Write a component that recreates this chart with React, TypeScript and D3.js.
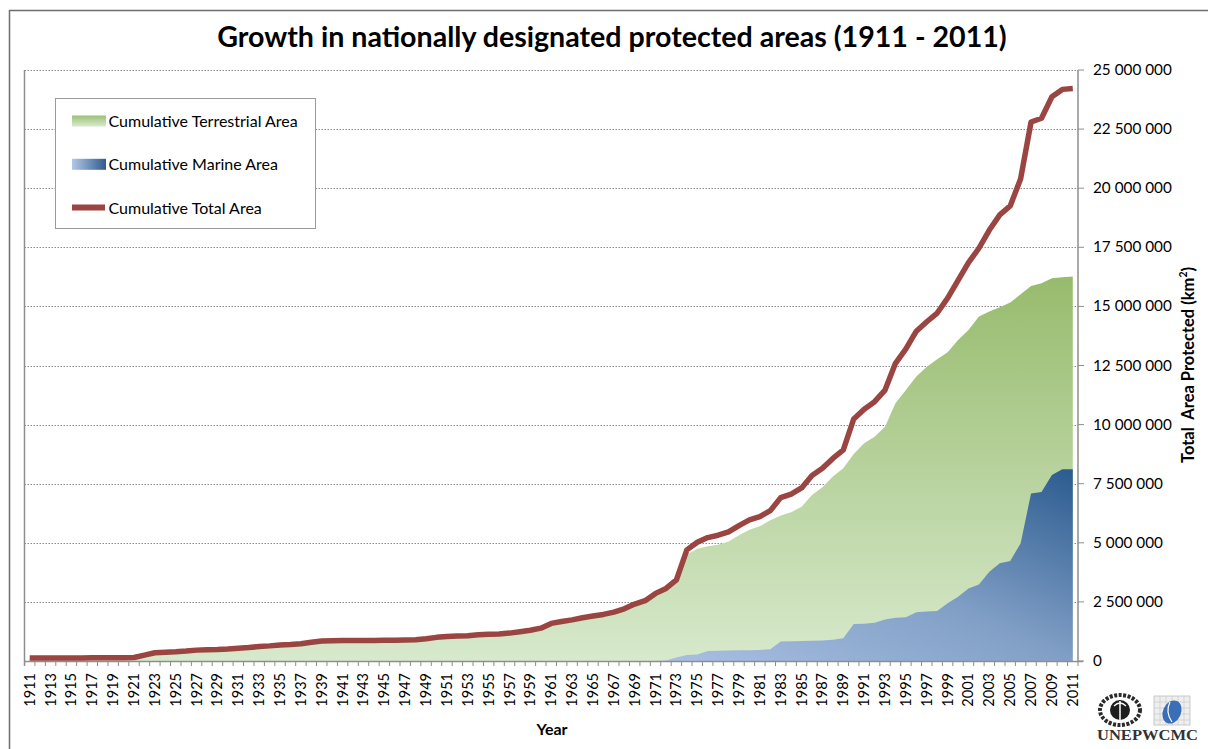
import React from "react";
import * as d3 from "d3";

// ---- Data (values in million km²) ----
const years: number[] = d3.range(1911, 2012);

const totalArea: number[] = [
  0.13, 0.13, 0.13, 0.13, 0.13, 0.13, 0.14, 0.14, 0.14, 0.14,
  0.15, 0.25, 0.35, 0.37, 0.39, 0.42, 0.46, 0.48, 0.49, 0.51,
  0.54, 0.57, 0.61, 0.64, 0.68, 0.70, 0.73, 0.79, 0.85, 0.86,
  0.87, 0.87, 0.87, 0.87, 0.88, 0.88, 0.89, 0.90, 0.94, 1.00,
  1.04, 1.06, 1.07, 1.11, 1.13, 1.14, 1.18, 1.24, 1.30, 1.39,
  1.59, 1.67, 1.74, 1.83, 1.90, 1.97, 2.07, 2.21, 2.41, 2.55,
  2.86, 3.07, 3.43, 4.70, 5.02, 5.22, 5.32, 5.46, 5.73, 5.97,
  6.11, 6.36, 6.91, 7.06, 7.32, 7.85, 8.15, 8.57, 8.93, 10.24,
  10.65, 10.97, 11.46, 12.59, 13.20, 13.95, 14.35, 14.72, 15.35, 16.10,
  16.85, 17.46, 18.23, 18.87, 19.25, 20.40, 22.80, 22.96, 23.87, 24.18, 24.22,
];

const terrestrialArea: number[] = [
  0.13, 0.13, 0.13, 0.13, 0.13, 0.13, 0.14, 0.14, 0.14, 0.14,
  0.15, 0.25, 0.35, 0.37, 0.39, 0.42, 0.46, 0.48, 0.49, 0.51,
  0.54, 0.57, 0.61, 0.64, 0.68, 0.70, 0.73, 0.79, 0.85, 0.86,
  0.87, 0.87, 0.87, 0.87, 0.88, 0.88, 0.89, 0.90, 0.94, 1.00,
  1.04, 1.06, 1.07, 1.11, 1.13, 1.14, 1.18, 1.24, 1.30, 1.39,
  1.59, 1.67, 1.74, 1.83, 1.90, 1.97, 2.07, 2.21, 2.41, 2.55,
  2.86, 3.05, 3.30, 4.50, 4.75, 4.85, 4.92, 5.05, 5.32, 5.55,
  5.70, 5.95, 6.15, 6.29, 6.53, 7.02, 7.35, 7.80, 8.15, 8.76,
  9.21, 9.49, 9.91, 10.90, 11.46, 12.03, 12.45, 12.76, 13.06, 13.58,
  14.00, 14.57, 14.78, 14.96, 15.16, 15.51, 15.86, 15.98, 16.19, 16.23, 16.26,
];

const marineArea: number[] = [
  0, 0, 0, 0, 0, 0, 0, 0, 0, 0,
  0, 0, 0, 0, 0, 0, 0, 0, 0, 0,
  0, 0, 0, 0, 0, 0, 0, 0, 0, 0,
  0, 0, 0, 0, 0, 0, 0, 0, 0, 0,
  0, 0, 0, 0, 0, 0, 0, 0, 0, 0,
  0, 0, 0, 0, 0, 0, 0, 0, 0, 0,
  0, 0.02, 0.15, 0.25, 0.27, 0.42, 0.43, 0.44, 0.45, 0.46,
  0.47, 0.50, 0.83, 0.84, 0.85, 0.86, 0.87, 0.90, 0.96, 1.57,
  1.58, 1.62, 1.76, 1.83, 1.85, 2.06, 2.09, 2.12, 2.44, 2.72,
  3.07, 3.24, 3.78, 4.13, 4.23, 4.98, 7.09, 7.15, 7.87, 8.11, 8.11,
];

const yTicks: number[] = [0, 2.5, 5, 7.5, 10, 12.5, 15, 17.5, 20, 22.5, 25];

const legendItems = [
  { key: "terr", label: "Cumulative Terrestrial Area" },
  { key: "marine", label: "Cumulative Marine Area" },
  { key: "total", label: "Cumulative Total Area" },
];

const TITLE = "Growth in nationally designated protected areas (1911 - 2011)";
const FONT = "Lato, 'Open Sans', sans-serif";

export default function App() {
  const W = 1208;
  const H = 749;
  const plotLeft = 24.5;
  const plotRight = 1078;
  const plotTop = 70;
  const plotBottom = 661;

  const x = d3.scaleBand<number>().domain(years).range([plotLeft, plotRight]).paddingInner(0).paddingOuter(0);
  const cx = (yr: number) => (x(yr) as number) + x.bandwidth() / 2;
  const y = d3.scaleLinear().domain([0, 25]).range([plotBottom, plotTop]);

  const fmt = (v: number) => d3.format(",")(Math.round(v * 1e6)).replace(/,/g, " ");

  const terrArea = d3
    .area<number>()
    .x((_, i) => cx(years[i]))
    .y0(y(0))
    .y1((d) => y(d))(terrestrialArea) as string;

  const marineStart = marineArea.findIndex((v) => v > 0) - 1;
  const marinePath = d3
    .area<number>()
    .defined((_, i) => i >= marineStart)
    .x((_, i) => cx(years[i]))
    .y0(y(0))
    .y1((d) => y(d))(marineArea) as string;

  const totalLine = d3
    .line<number>()
    .x((_, i) => cx(years[i]))
    .y((d) => y(d))(totalArea) as string;

  const boundaries = [...years.map((yr) => x(yr) as number), plotRight];

  const lineColor = "#9A4542";
  const axisColor = "#8E8E8E";

  return (
    <svg width={W} height={H} style={{ display: "block", position: "absolute", left: 0, top: 0 }}>
      <defs>
        <linearGradient id="gTerr" x1="0" y1="0" x2="0" y2="1">
          <stop offset="0" stopColor="#97BB6D" />
          <stop offset="1" stopColor="#D7E9CC" />
        </linearGradient>
        <linearGradient id="gMarine" x1="0" y1="1" x2="1" y2="0">
          <stop offset="0" stopColor="#A9C0E2" />
          <stop offset="0.5" stopColor="#819FC6" />
          <stop offset="1" stopColor="#2B5B8F" />
        </linearGradient>
        <linearGradient id="gTerrLeg" x1="0" y1="0" x2="0" y2="1">
          <stop offset="0" stopColor="#9CC178" />
          <stop offset="1" stopColor="#D9EACD" />
        </linearGradient>
        <linearGradient id="gMarineLeg" x1="0" y1="0" x2="1" y2="0">
          <stop offset="0" stopColor="#B3C8E8" />
          <stop offset="1" stopColor="#2E5C8E" />
        </linearGradient>
      </defs>

      <rect x={0} y={0} width={W} height={H} fill="#fff" />
      {/* outer chart border */}
      <path d={`M9.5,${H + 2} V10.5 H${W + 2}`} fill="none" stroke="#6E6E6E" strokeWidth={1.5} />

      {/* title */}
      <text x={612} y={47} textAnchor="middle" fontFamily={FONT} fontWeight={700} fontSize={28.6} fill="#000">
        {TITLE}
      </text>

      {/* gridlines */}
      {yTicks.filter((t) => t > 0).map((t) => (
        <line
          key={t}
          x1={plotLeft}
          x2={plotRight}
          y1={Math.round(y(t)) + 0.5}
          y2={Math.round(y(t)) + 0.5}
          stroke="#8A8A8A"
          strokeWidth={1}
          strokeDasharray="1.5,1.5"
        />
      ))}

      {/* areas */}
      <path d={terrArea} fill="url(#gTerr)" />
      <path d={marinePath} fill="url(#gMarine)" />

      {/* left border of plot */}
      <line x1={plotLeft} x2={plotLeft} y1={plotTop} y2={plotBottom + 5} stroke={axisColor} strokeWidth={1.5} />

      {/* x axis */}
      <line x1={plotLeft} x2={plotRight + 5} y1={plotBottom + 0.5} y2={plotBottom + 0.5} stroke={axisColor} strokeWidth={1.5} />
      {boundaries.map((bx, i) => (
        <line key={i} x1={bx} x2={bx} y1={plotBottom} y2={plotBottom + 5} stroke={axisColor} strokeWidth={1} />
      ))}
      {years.filter((_, i) => i % 2 === 0).map((yr) => (
        <text
          key={yr}
          transform={`translate(${cx(yr) + 5},${673}) rotate(-90)`}
          textAnchor="end"
          fontFamily={FONT}
          fontSize={14.5}
          fill="#000"
        >
          {yr}
        </text>
      ))}
      <text x={552} y={735} textAnchor="middle" fontFamily={FONT} fontWeight={700} fontSize={16} fill="#000">
        Year
      </text>

      {/* right y axis */}
      <line x1={plotRight} x2={plotRight} y1={plotTop} y2={plotBottom} stroke={axisColor} strokeWidth={1.5} />
      {yTicks.map((t) => (
        <g key={t}>
          <line x1={plotRight} x2={plotRight + 6} y1={y(t)} y2={y(t)} stroke={axisColor} strokeWidth={1} />
          <text x={1093} y={y(t) + 5} fontFamily={FONT} fontSize={15.3} fill="#000">
            {fmt(t)}
          </text>
        </g>
      ))}
      <text
        transform={`translate(${1194},${365}) rotate(-90)`}
        textAnchor="middle"
        fontFamily={FONT}
        fontWeight={700}
        fontSize={16.5}
        fill="#000"
        style={{ whiteSpace: "pre" }}
      >
        {"Total  Area Protected (km"}
        <tspan fontSize={10.5} dy={-7}>2</tspan>
        <tspan dy={7}>)</tspan>
      </text>

      {/* total line */}
      <path d={totalLine} fill="none" stroke={lineColor} strokeWidth={5.5} strokeLinejoin="round" strokeLinecap="butt" />

      {/* legend */}
      <rect x={55.5} y={98.5} width={260} height={130} fill="#fff" stroke="#9A9A9A" strokeWidth={1} />
      {legendItems.map((it, i) => {
        const rowY = 121 + i * 43.3;
        return (
          <g key={it.key}>
            {it.key === "terr" && <rect x={72} y={rowY - 5.5} width={34} height={11} fill="url(#gTerrLeg)" />}
            {it.key === "marine" && <rect x={72} y={rowY - 5.5} width={34} height={11} fill="url(#gMarineLeg)" />}
            {it.key === "total" && <line x1={72} x2={105} y1={rowY} y2={rowY} stroke={lineColor} strokeWidth={6} />}
            <text x={108.5} y={rowY + 6} fontFamily={FONT} fontSize={16} fill="#000">
              {it.label}
            </text>
          </g>
        );
      })}

      {/* UNEP / WCMC logos */}
      <g>
        <ellipse cx={1120} cy={710} rx={20} ry={15} fill="#fff" stroke="#2a2a2a" strokeWidth={4} strokeDasharray="3,1.5" />
        <circle cx={1120} cy={710} r={10} fill="#1e1e1e" />
        <line x1={1120} x2={1120} y1={701} y2={720} stroke="#fff" strokeWidth={1.5} />
        <path d="M1114,706 Q1120,700 1126,706" fill="none" stroke="#fff" strokeWidth={1.2} />
        <rect x={1154} y={696} width={36} height={29} fill="#eeeeee" stroke="#bdbdbd" strokeWidth={0.8} />
        {[0, 1, 2, 3, 4].map((k) => (
          <line key={"v" + k} x1={1160 + k * 6} x2={1160 + k * 6} y1={696} y2={725} stroke="#c8c8c8" strokeWidth={0.6} />
        ))}
        {[0, 1, 2, 3].map((k) => (
          <line key={"h" + k} x1={1154} x2={1190} y1={702 + k * 6} y2={702 + k * 6} stroke="#c8c8c8" strokeWidth={0.6} />
        ))}
        <ellipse cx={1172} cy={712} rx={9} ry={12} fill="#3A6FB8" transform="rotate(25,1172,712)" />
        <path d="M1170,702 Q1165,712 1172,722" fill="none" stroke="#fff" strokeWidth={1.2} />
        <text x={1097} y={740} fontFamily="'Liberation Serif', serif" fontWeight={700} fontSize={14} fill="#333" textLength={101} lengthAdjust="spacingAndGlyphs">
          UNEPWCMC
        </text>
      </g>
    </svg>
  );
}
